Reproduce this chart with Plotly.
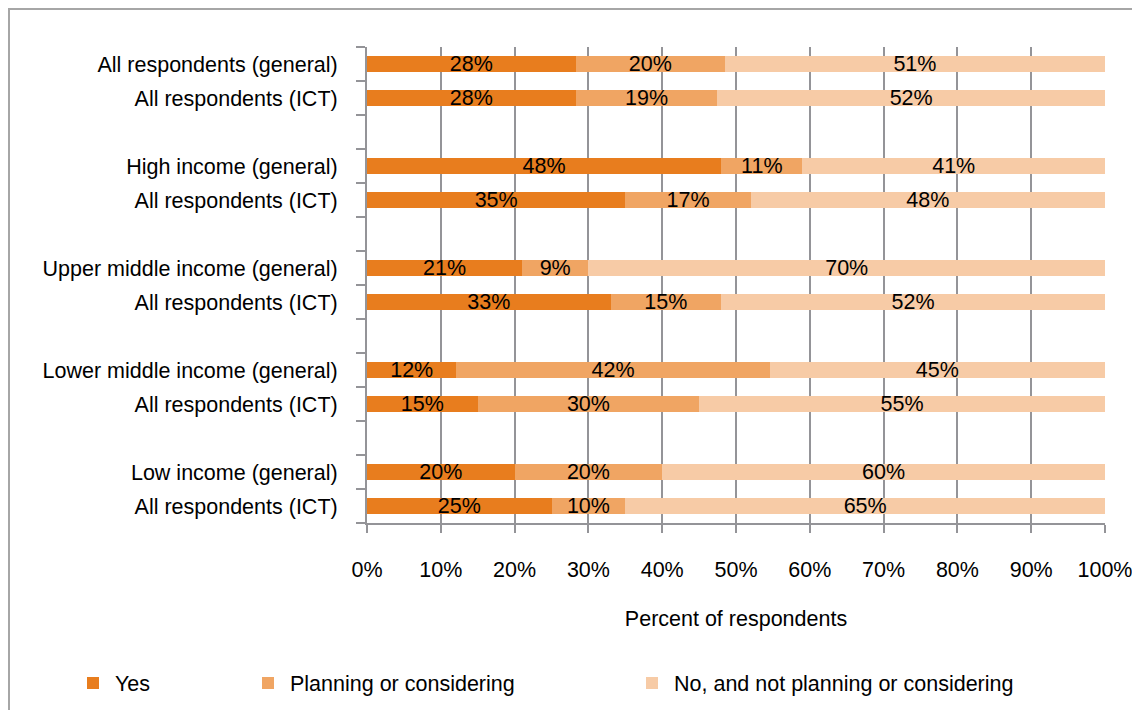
import plotly.graph_objects as go

# category labels, top to bottom
labels = [
    "All respondents (general)", "All respondents (ICT)",
    "High income (general)", "All respondents (ICT)",
    "Upper middle income (general)", "All respondents (ICT)",
    "Lower middle income (general)", "All respondents (ICT)",
    "Low income (general)", "All respondents (ICT)",
]
yes = [28, 28, 48, 35, 21, 33, 12, 15, 20, 25]
planning = [20, 19, 11, 17, 9, 15, 42, 30, 20, 10]
no = [51, 52, 41, 48, 70, 52, 45, 55, 60, 65]
x_ticks = [0, 10, 20, 30, 40, 50, 60, 70, 80, 90, 100]
x_tick_labels = [f"{v}%" for v in x_ticks]

# two bars per group, one empty slot between groups
pos = [(i // 2) * 3 + i % 2 for i in range(len(labels))]
bounds = [p - 0.5 for p in range(pos[-1] + 2)]

FONT = "Liberation Sans, Arial, sans-serif"
FS = 21.5
GRID = "#949498"
# page body has an 8px margin, so lay out in shifted pixel coords
OFF = 8
W, H = 1140 - OFF, 710 - OFF
L, R, T, B = 367 - OFF, 1105 - OFF, 47 - OFF, 523 - OFF


def px_x(v):
    return (v - OFF - L) / (R - L)


def px_y(v):
    return (B - (v - OFF)) / (B - T)


series = [
    ("Yes", yes, "#E87D1E", "legend", 71),
    ("Planning or considering", planning, "#F0A563", "legend2", 246),
    ("No, and not planning or considering", no, "#F7CBA6", "legend3", 630),
]

fig = go.Figure()
for name, vals, color, leg, _ in series:
    fig.add_trace(go.Bar(
        x=vals, y=pos, name=name, orientation="h",
        marker=dict(color=color, line=dict(width=0)),
        width=0.49,
        text=[f"{v}%" for v in vals],
        textposition="inside", insidetextanchor="middle",
        textangle=0, constraintext="none",
        textfont=dict(family=FONT, size=FS, color="black"),
        legend=leg, showlegend=True, hoverinfo="skip",
    ))

legends = {}
for name, vals, color, leg, lx in series:
    legends[leg] = dict(
        x=px_x(lx), y=px_y(683), xanchor="left", yanchor="middle",
        orientation="h", bgcolor="rgba(0,0,0,0)", itemwidth=34,
        font=dict(family=FONT, size=FS, color="black"),
    )

fig.update_layout(
    width=W, height=H, showlegend=True,
    margin=dict(l=L, r=W - R, t=T, b=H - B, autoexpand=False),
    paper_bgcolor="white", plot_bgcolor="white",
    barmode="stack", barnorm="percent",
    font=dict(family=FONT, size=FS, color="black"),
    xaxis=dict(
        range=[0, 100], tickvals=x_ticks, ticktext=x_tick_labels,
        showgrid=True, gridcolor=GRID, gridwidth=2, zeroline=False,
        showline=True, linecolor=GRID, linewidth=2,
        ticks="outside", ticklen=8, tickwidth=2, tickcolor=GRID,
        ticklabelstandoff=18,
        title=dict(text="Percent of respondents", standoff=30,
                   font=dict(family=FONT, size=FS, color="black")),
    ),
    yaxis=dict(
        range=[pos[-1] + 0.5, -0.5], tickvals=pos, ticktext=labels,
        showgrid=False, zeroline=False,
        showline=True, linecolor=GRID, linewidth=2,
        ticks="", ticklabelstandoff=23,
        minor=dict(tickvals=bounds, ticks="outside", ticklen=9,
                   tickwidth=2, tickcolor=GRID, showgrid=False),
    ),
    shapes=[dict(type="rect", xref="paper", yref="paper",
                 x0=px_x(OFF + 1), x1=px_x(1160), y0=px_y(730), y1=px_y(OFF + 1),
                 line=dict(color="#a6a6a6", width=2), layer="above")],
    **legends,
)

fig.write_html("out.html")
